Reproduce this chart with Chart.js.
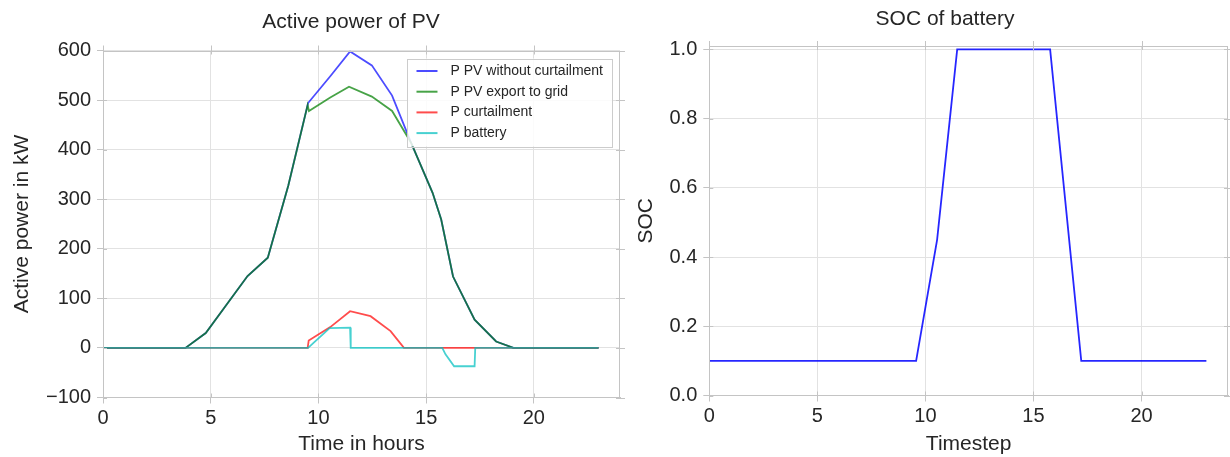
<!DOCTYPE html>
<html>
<head>
<meta charset="utf-8">
<script src="https://cdn.jsdelivr.net/npm/chart.js@4.4.0/dist/chart.umd.min.js"></script>
<style>
  html, body { margin: 0; padding: 0; background: #fff; }
  #wrap { position: relative; width: 1230px; height: 457px; }
  canvas { position: absolute; top: 0; }
</style>
</head>
<body>
<div id="wrap">
  <canvas id="power" width="630" height="457" style="left:0"></canvas>
  <canvas id="soc" width="605" height="457" style="left:625px"></canvas>
</div>
<script>
// values (x in hours)
const pvHours = [0, 3.83, 4.77, 5.75, 6.71, 7.65, 8.6, 9.52, 10.55, 11.47, 12.48, 13.42, 14.3, 15.3, 15.7, 16.25, 17.25, 18.25, 19.05, 23];
const pvValues = [0, 0, 30, 88, 145, 182, 327, 494, 548, 598, 570, 509, 414, 313, 259, 144, 57, 13, 0, 0];

const gridHours = [0, 3.83, 4.77, 5.75, 6.71, 7.65, 8.6, 9.5, 9.56, 10.55, 11.42, 12.48, 13.42, 14.3, 15.3, 15.7, 16.25, 17.25, 18.25, 19.05, 23];
const gridValues = [0, 0, 30, 88, 145, 182, 327, 490, 478, 505, 527, 507, 478, 414, 313, 259, 144, 57, 13, 0, 0];

const curtHours = [0, 9.5, 9.55, 10.55, 11.47, 12.42, 13.35, 13.97, 23];
const curtValues = [0, 0, 15, 42, 74, 64, 34, 0, 0];

const batHours = [0, 9.52, 10.52, 11.47, 11.5, 15.75, 15.9, 16.3, 17.25, 17.28, 23];
const batValues = [0, 0, 40, 41, 0, 0, -13, -37, -37, 0, 0];

const socHours = [0, 9.57, 10.54, 11.47, 15.77, 17.21, 23];
const socValues = [0.1, 0.1, 0.45, 1.0, 1.0, 0.1, 0.1];

const xTicks = [0, 5, 10, 15, 20];
const powerTicks = [-100, 0, 100, 200, 300, 400, 500, 600];
const socTicks = [0, 0.2, 0.4, 0.6, 0.8, 1.0];

const FONT = "'Liberation Sans', Arial, sans-serif";
const TXT = "#262626";
const GRID = "#e2e2e2";
const EDGE = "#c4c4c4";

const pts = (xs, ys) => xs.map((x, i) => ({ x: x, y: ys[i] }));
const minus = (v) => String(v).replace("-", "\u2212");

// frame on all four sides + small ticks on top/right, like matplotlib
const frame = {
  id: "frame",
  afterDraw(chart) {
    const { ctx, chartArea: a, scales } = chart;
    ctx.save();
    ctx.strokeStyle = EDGE;
    ctx.lineWidth = 1;
    ctx.strokeRect(Math.round(a.left) + 0.5, Math.round(a.top) + 0.5,
      Math.round(a.width) - 1, Math.round(a.height) - 1);
    ctx.beginPath();
    scales.x.ticks.forEach((t) => {
      const px = Math.round(scales.x.getPixelForValue(t.value)) + 0.5;
      ctx.moveTo(px, a.top - 5);
      ctx.lineTo(px, a.top + 4);
      ctx.moveTo(px, a.bottom - 4);
      ctx.lineTo(px, a.bottom);
    });
    scales.y.ticks.forEach((t) => {
      const py = Math.round(scales.y.getPixelForValue(t.value)) + 0.5;
      ctx.moveTo(a.right - 4, py);
      ctx.lineTo(a.right + 5, py);
      ctx.moveTo(a.left, py);
      ctx.lineTo(a.left + 4, py);
    });
    ctx.stroke();
    ctx.restore();
  },
};

// axes title, placed where the reference has it
const headTitle = {
  id: "headTitle",
  afterDraw(chart, args, opts) {
    const { ctx } = chart;
    ctx.save();
    ctx.font = "21px " + FONT;
    ctx.fillStyle = TXT;
    ctx.textAlign = "center";
    ctx.textBaseline = "middle";
    ctx.fillText(opts.text, opts.cx, opts.cy);
    ctx.restore();
  },
};

// boxed legend inside the plot, upper right
const boxLegend = {
  id: "boxLegend",
  afterDraw(chart, args, opts) {
    if (!opts.show) return;
    const { ctx, chartArea: a } = chart;
    const sets = chart.data.datasets;
    ctx.save();
    ctx.font = "14px " + FONT;
    const tw = Math.max(...sets.map((d) => ctx.measureText(d.label).width));
    const w = 43 + tw + 9;
    const h = 88;
    const x0 = a.right - 8 - w;
    const y0 = a.top + 8;
    ctx.fillStyle = "rgba(255,255,255,0.85)";
    ctx.fillRect(x0, y0, w, h);
    ctx.strokeStyle = "#cccccc";
    ctx.lineWidth = 1;
    ctx.strokeRect(Math.round(x0) + 0.5, Math.round(y0) + 0.5, Math.round(w), h);
    ctx.textBaseline = "middle";
    sets.forEach((d, i) => {
      const cy = y0 + 12.5 + i * 20.7;
      ctx.strokeStyle = d.borderColor;
      ctx.lineWidth = 2;
      ctx.beginPath();
      ctx.moveTo(x0 + 9, cy);
      ctx.lineTo(x0 + 30, cy);
      ctx.stroke();
      ctx.fillStyle = TXT;
      ctx.fillText(d.label, x0 + 43, cy);
    });
    ctx.restore();
  },
};

function xScale(title, height) {
  return {
    type: "linear",
    min: 0,
    max: 24,
    afterBuildTicks: (s) => { s.ticks = xTicks.map((v) => ({ value: v })); },
    afterFit: (s) => { s.height = height; },
    grid: { color: GRID, tickLength: 6, tickColor: EDGE },
    border: { color: EDGE },
    ticks: { color: TXT, font: { family: FONT, size: 20 }, padding: 3, maxRotation: 0 },
    title: { display: true, text: title, color: TXT, font: { family: FONT, size: 21 }, padding: { top: 0, bottom: 0 } },
  };
}

function yScale(title, min, max, ticks, width, fmt, titlePad) {
  return {
    min: min,
    max: max,
    afterBuildTicks: (s) => { s.ticks = ticks.map((v) => ({ value: v })); },
    afterFit: (s) => { s.width = width; },
    grid: { color: GRID, tickLength: 6, tickColor: EDGE },
    border: { color: EDGE },
    ticks: { color: TXT, font: { family: FONT, size: 20 }, padding: 6, callback: fmt },
    title: { display: true, text: title, color: TXT, font: { family: FONT, size: 21 }, padding: { top: titlePad, bottom: 0 } },
  };
}

// order: higher number is painted first, so the last legend entry ends on top
function lineSet(label, xs, ys, color, order) {
  return {
    label: label,
    data: pts(xs, ys),
    borderColor: color,
    borderWidth: 1.8,
    pointRadius: 0,
    fill: false,
    tension: 0,
    order: order,
  };
}

new Chart(document.getElementById("power"), {
  type: "line",
  data: {
    datasets: [
      lineSet("P PV without curtailment", pvHours, pvValues, "rgba(0,0,255,0.7)", 4),
      lineSet("P PV export to grid", gridHours, gridValues, "rgba(0,128,0,0.72)", 3),
      lineSet("P curtailment", curtHours, curtValues, "rgba(255,0,0,0.7)", 2),
      lineSet("P battery", batHours, batValues, "rgba(0,191,191,0.72)", 1),
    ],
  },
  options: {
    responsive: false,
    devicePixelRatio: 1,
    animation: false,
    layout: { padding: { left: 0, right: 10, top: 50.5, bottom: 0 } },
    scales: {
      x: xScale("Time in hours", 59.5),
      y: yScale("Active power in kW", -100, 600, powerTicks, 103, (v) => minus(v), 10),
    },
    plugins: {
      legend: { display: false },
      tooltip: { enabled: false },
      title: { display: false },
      headTitle: { text: "Active power of PV", cx: 351, cy: 22 },
      boxLegend: { show: true },
    },
  },
  plugins: [frame, headTitle, boxLegend],
});

new Chart(document.getElementById("soc"), {
  type: "line",
  data: {
    datasets: [lineSet("SOC", socHours, socValues, "rgba(0,0,255,0.85)", 1)],
  },
  options: {
    responsive: false,
    devicePixelRatio: 1,
    animation: false,
    layout: { padding: { left: 0, right: 2, top: 46, bottom: 0 } },
    scales: {
      x: xScale("Timestep", 61.5),
      y: yScale("SOC", 0, 1.01, socTicks, 84.3, (v) => v.toFixed(1), 9),
    },
    plugins: {
      legend: { display: false },
      tooltip: { enabled: false },
      title: { display: false },
      headTitle: { text: "SOC of battery", cx: 320, cy: 19 },
      boxLegend: { show: false },
    },
  },
  plugins: [frame, headTitle, boxLegend],
});
</script>
</body>
</html>
